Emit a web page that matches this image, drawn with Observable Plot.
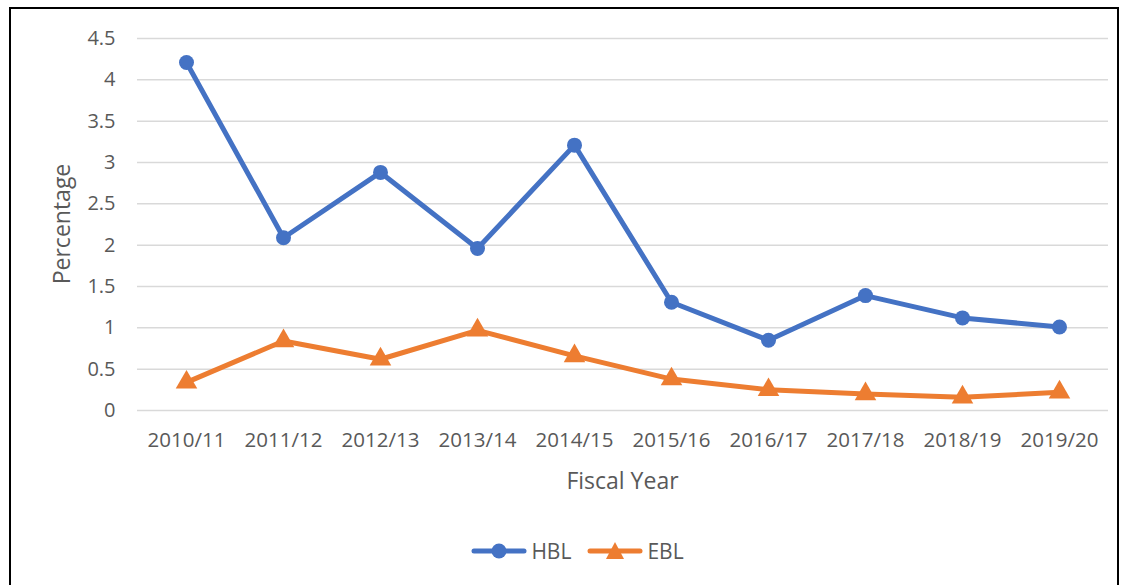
<!DOCTYPE html>
<html>
<head>
<meta charset="utf-8">
<script src="https://cdn.jsdelivr.net/npm/d3@7"></script>
<script src="https://cdn.jsdelivr.net/npm/@observablehq/plot@0.6"></script>
<style>
  body { margin: 0; background: #fff; font-family: "Open Sans", "Liberation Sans", sans-serif; }
  #wrap { position: relative; width: 1133px; height: 585px; overflow: hidden; background: #fff; }
  #frame { position: absolute; left: 9px; top: 7px; width: 1110px; height: 620px; border: 2px solid #000; box-sizing: border-box; }
  #chart { position: absolute; left: 0; top: 0; }
  #legend { position: absolute; left: 0; top: 537px; width: 1133px; display: flex; justify-content: center; gap: 16px; font-size: 21px; color: #595959; padding-left: 22px; box-sizing: border-box; }
  .item { display: flex; align-items: center; gap: 4px; }
</style>
</head>
<body>
<div id="wrap">
  <div id="frame"></div>
  <div id="chart"></div>
  <div id="legend"></div>
</div>
<script>
const years = ["2010/11","2011/12","2012/13","2013/14","2014/15","2015/16","2016/17","2017/18","2018/19","2019/20"];
const hbl = [4.21, 2.09, 2.88, 1.96, 3.21, 1.31, 0.85, 1.39, 1.12, 1.01];
const ebl = [0.34, 0.84, 0.62, 0.97, 0.66, 0.38, 0.25, 0.20, 0.16, 0.22];
const yTicks = [0, 0.5, 1, 1.5, 2, 2.5, 3, 3.5, 4, 4.5];
const seriesNames = ["HBL", "EBL"];
const colors = ["#4472C4", "#ED7D31"];

const hblData = years.map((y, i) => ({year: y, value: hbl[i]}));
const eblData = years.map((y, i) => ({year: y, value: ebl[i]}));

const plot = Plot.plot({
  width: 1133,
  height: 500,
  marginLeft: 137,
  marginRight: 25,
  marginTop: 38,
  marginBottom: 90,
  style: { fontFamily: "'Open Sans', sans-serif", fontSize: "20px", color: "#595959", background: "transparent" },
  x: { type: "point", domain: years, padding: 0.5, label: null },
  y: { domain: [0, 4.5], ticks: yTicks, label: null },
  marks: [
    Plot.gridY(yTicks, { stroke: "#d9d9d9", strokeOpacity: 1, strokeWidth: 1.5 }),
    Plot.axisY(yTicks, { tickSize: 0, tickPadding: 22, tickFormat: d => String(d), fill: "#595959", fontSize: 20 }),
    Plot.axisX({ tickSize: 0, tickPadding: 22, fill: "#595959", fontSize: 20.5 }),
    Plot.line(hblData, { x: "year", y: "value", stroke: colors[0], strokeWidth: 5, strokeLinejoin: "round", strokeLinecap: "round" }),
    Plot.dot(hblData, { x: "year", y: "value", fill: colors[0], r: 7.5, symbol: "circle" }),
    Plot.line(eblData, { x: "year", y: "value", stroke: colors[1], strokeWidth: 5, strokeLinejoin: "round", strokeLinecap: "round" }),
    Plot.dot(eblData, { x: "year", y: "value", fill: colors[1], r: 8, symbol: "triangle" })
  ]
});
document.getElementById("chart").appendChild(plot);

// Axis titles
const svg = d3.select(plot);
svg.append("text").attr("x", (137 + 1108) / 2).attr("y", 489).attr("text-anchor", "middle")
  .attr("fill", "#595959").attr("font-size", 23).attr("font-family", "'Open Sans', sans-serif").text("Fiscal Year");
svg.append("text").attr("transform", "translate(70,224) rotate(-90)").attr("text-anchor", "middle")
  .attr("fill", "#595959").attr("font-size", 23).attr("font-family", "'Open Sans', sans-serif").text("Percentage");

// Legend
const legend = document.getElementById("legend");
seriesNames.forEach((name, i) => {
  const item = document.createElement("div");
  item.className = "item";
  const sym = i === 0
    ? `<circle cx="28" cy="10" r="7.5" fill="${colors[i]}"/>`
    : `<path d="M28,1 L37,18 L19,18 Z" fill="${colors[i]}"/>`;
  item.innerHTML = `<svg width="56" height="20"><line x1="3" x2="53" y1="10" y2="10" stroke="${colors[i]}" stroke-width="5" stroke-linecap="round"/>${sym}</svg><span>${name}</span>`;
  legend.appendChild(item);
});
</script>
</body>
</html>
